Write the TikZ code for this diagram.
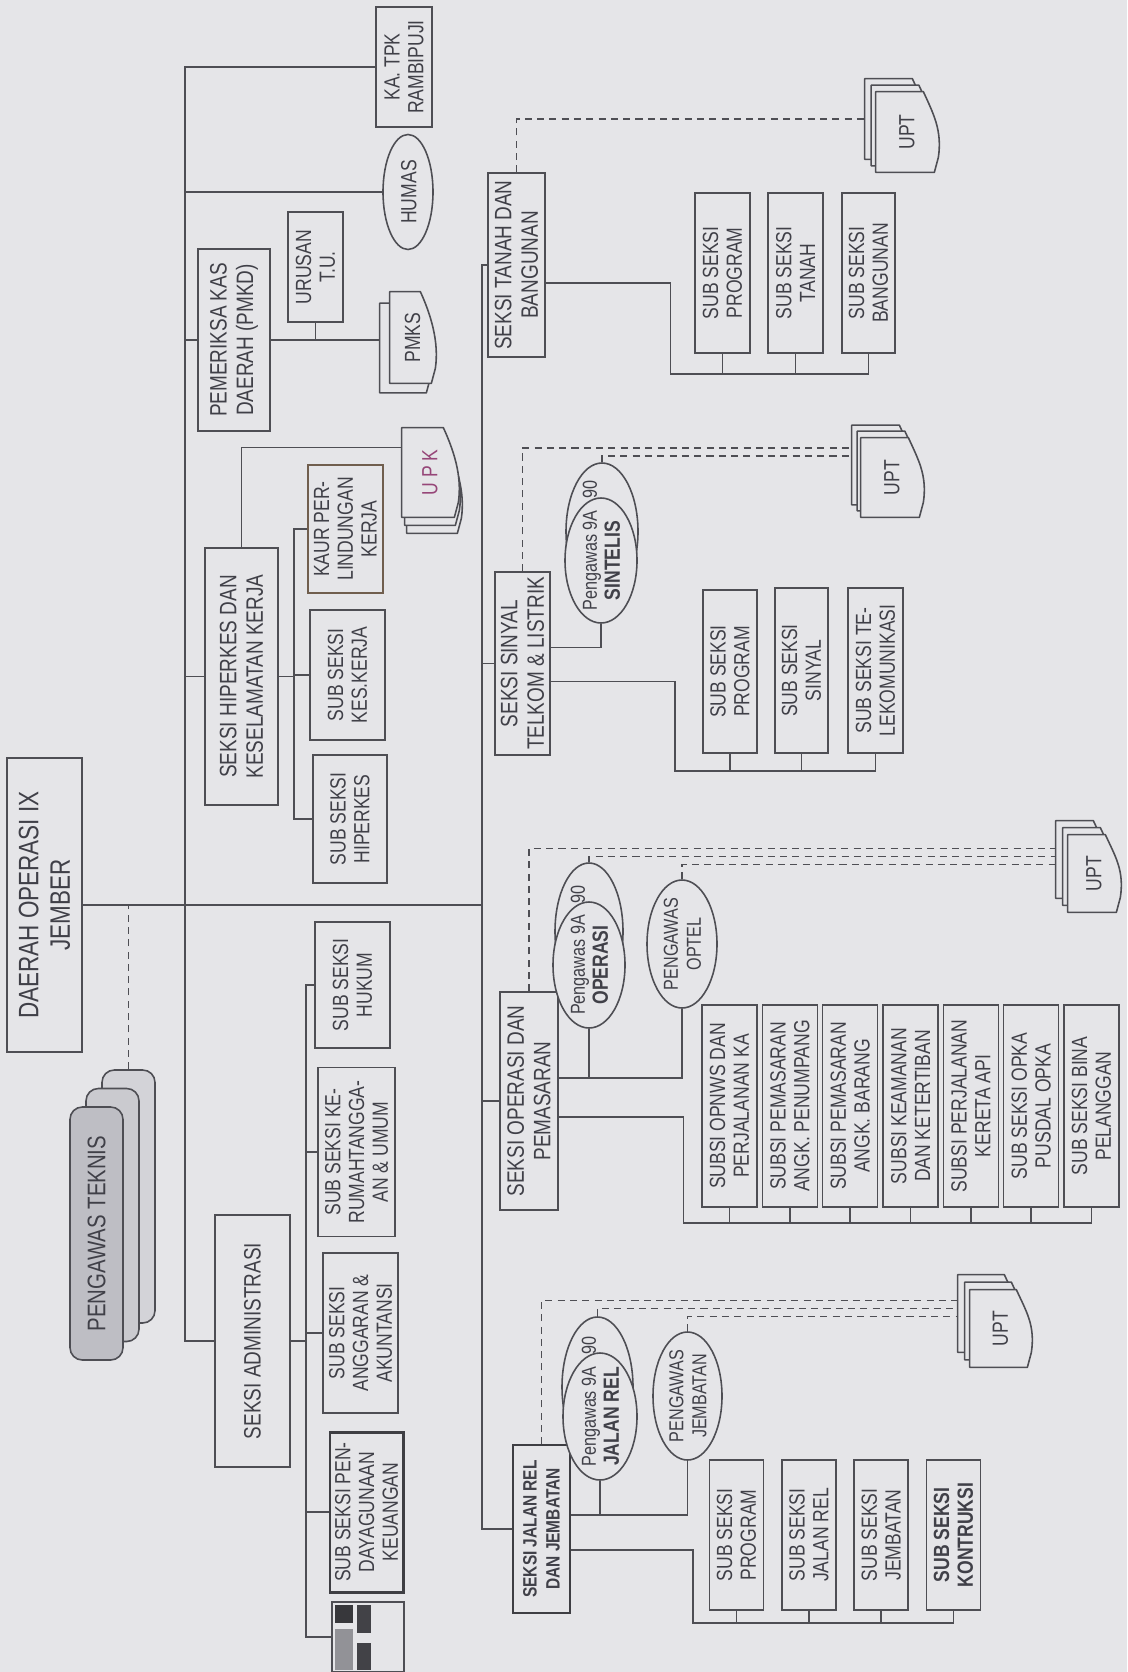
\documentclass[tikz,border=0pt]{standalone}
\usepackage{fontspec}
\setmainfont{Liberation Sans}[FakeStretch=0.8]
\usetikzlibrary{calc,shapes.geometric,backgrounds}

\definecolor{paper}{RGB}{229,229,232}
\definecolor{ink}{RGB}{78,78,84}
\definecolor{inkt}{RGB}{64,64,72}
\definecolor{tekfill}{RGB}{190,190,196}
\definecolor{kaurc}{RGB}{112,94,78}
\definecolor{upkc}{RGB}{150,70,120}

\newcommand{\fsub}{\fontsize{12.5}{13.5}\selectfont}
\newcommand{\fsek}{\fontsize{13.5}{15}\selectfont}
\newcommand{\fdop}{\fontsize{16}{18}\selectfont}
\newcommand{\ftek}{\fontsize{14.5}{16}\selectfont}
\newcommand{\fpeng}{\fontsize{11.5}{13}\selectfont}
\newcommand{\elltext}[1]{\makebox[0pt]{\smash{\raisebox{-0.4em}{\begin{tabular}{@{}c@{}}#1\end{tabular}}}}}
% sheet outline with the wavy edge on the right
\newcommand{\sheet}[1]{%
  \filldraw[draw=ink, fill=paper, line width=0.9pt, line join=round]
    (#1.north east) -- ($(#1.south east)+(-15,0)$)
    .. controls ($(#1.south east)+(-5,22)$) and ($(#1.south west)+(4,-42)$) ..
    ($(#1.south west)+(0,-15)$) -- ($(#1.south west)+(-4,0)$)
    -- (#1.north west) -- cycle;}

\begin{document}
\begin{tikzpicture}[x=0.02cm, y=-0.02cm,
    box/.style={draw=ink, fill=paper, line width=0.9pt, rotate=90, align=center,
                inner sep=1pt, text=inkt, font=\fsub},
    sz/.style 2 args={minimum width=#1*0.02cm, minimum height=#2*0.02cm},
    ov/.style={ellipse, draw=ink, fill=paper, line width=0.9pt, rotate=90,
               inner sep=0pt, text=inkt, font=\fpeng},
    pg/.style={rotate=90, inner sep=0pt, text=inkt, font=\fsub},
    tek/.style={draw=ink, fill=tekfill, rounded corners=7pt, line width=0.9pt,
                rotate=90, text=inkt, font=\ftek},
    ln/.style={draw=ink, line width=0.9pt},
    dl/.style={draw=ink, line width=0.8pt, dash pattern=on 4pt off 3pt},
  ]
  \useasboundingbox (0,0) rectangle (1127,1672);

  % head and staff
  \node[box, sz={294}{75}, font=\fdop] (dop) at (44.5,905) {DAERAH OPERASI IX\\JEMBER};
  \node[tek, sz={253}{53}, fill=tekfill!45!paper] (tek3) at (128.5,1196.5) {};
  \node[tek, sz={253}{53}, fill=tekfill!70!paper] (tek2) at (112.5,1215) {};
  \node[tek, sz={253}{53}] (tek1) at (96.5,1233.5) {PENGAWAS TEKNIS};
  \draw[dl] (tek3.east) -- (tek3.east |- dop.south);

  \coordinate (sp1) at (185,905);
  \coordinate (sp2) at (482,905);
  \draw[ln] (dop.south) -- (sp2);

  % left branch
  \node[box, sz={120}{56}] (katpk) at (404,67) {KA. TPK\\RAMBIPUJI};
  \node[ov, sz={115}{50}, font=\fsub] (humas) at (408,192) {\elltext{HUMAS}};
  \node[box, sz={182}{72}, font=\fsek] (pmkd) at (234,340) {PEMERIKSA KAS\\DAERAH (PMKD)};
  \node[box, sz={110}{55}] (urusan) at (315.5,267) {URUSAN\\T.U.};
  \node[pg, sz={89}{50}] (pmksb) at (405,348) {};
  \node[pg, sz={91}{45}] (pmks) at (412.5,337.5) {PMKS};
  \node[box, sz={257}{73}, font=\fsek] (hiper) at (241.5,676.5) {SEKSI HIPERKES DAN\\KESELAMATAN KERJA};
  \node[box, sz={252}{75}, font=\fsek] (admin) at (252.5,1341) {SEKSI ADMINISTRASI};

  \draw[ln] (katpk.north) -| (sp1) |- (admin.north);
  \draw[ln] (humas.north) -- (humas.north -| sp1);
  \draw[ln] (pmkd.north) -- (pmkd.north -| sp1);
  \draw[ln] (hiper.north) -- (hiper.north -| sp1);
  \draw[ln] (pmkd.south) -- (pmkd.south -| pmksb.north);
  \draw[ln] (urusan.west) -- (urusan.west |- pmkd.south);

  % hiperkes
  \node[box, sz={128}{75}, draw=kaurc, line width=1.7pt] (kaur) at (345.5,529) {KAUR PER-\\LINDUNGAN\\KERJA};
  \node[box, sz={130}{75}] (keskerja) at (347.5,675) {SUB SEKSI\\KES.KERJA};
  \node[box, sz={128}{74}] (subhiper) at (350,819) {SUB SEKSI\\HIPERKES};
  \node[pg, sz={89}{54}] (upkb2) at (434,488.5) {};
  \node[pg, sz={89}{54}] (upkb1) at (432,480.5) {};
  \node[pg, sz={89}{56}, text=upkc] (upk) at (430,472.5) {U P K};
  \coordinate (hb) at ($(hiper.south)+(15,0)$);
  \draw[ln] (hiper.south) -- (hb);
  \draw[ln] (kaur.north) -| (hb) |- (subhiper.north);
  \draw[ln] (keskerja.north) -- (keskerja.north -| hb);
  \draw[ln] (hiper.east) |- ($(upk.north)+(0,-25)$);

  % administrasi
  \node[box, sz={126}{75}] (hukum) at (352.5,985) {SUB SEKSI\\HUKUM};
  \node[box, sz={169}{77}] (rumah) at (356.5,1152) {SUB SEKSI KE-\\RUMAHTANGGA-\\AN \& UMUM};
  \node[box, sz={160}{75}] (anggaran) at (360.5,1333) {SUB SEKSI\\ANGGARAN \&\\AKUNTANSI};
  \node[box, sz={160}{73}, line width=1.7pt, draw=ink!80!black] (dayaguna) at (366.5,1512) {SUB SEKSI PEN-\\DAYAGUNAAN\\KEUANGAN};
  \node[box, sz={70}{72}] (ikon) at (368,1637) {};
  \fill[ink!70!black] ($(ikon)+(-33,-32)$) rectangle ($(ikon)+(-15,-14)$);
  \fill[ink!55!paper] ($(ikon)+(-33,-8)$) rectangle ($(ikon)+(-15,33)$);
  \fill[ink!85!black] ($(ikon)+(-11,-32)$) rectangle ($(ikon)+(3,-4)$);
  \fill[ink!85!black] ($(ikon)+(-11,6)$) rectangle ($(ikon)+(3,33)$);
  \coordinate (ab) at ($(admin.south)+(15,0)$);
  \draw[ln] (admin.south) -- (ab);
  \draw[ln] (hukum.north) -| (ab) |- (ikon.north);
  \foreach \n in {rumah,anggaran,dayaguna}
    \draw[ln] (\n.north) -- (\n.north -| ab);

  % right branch
  \node[box, sz={184}{57}, font=\fsek] (tanah) at (516.5,265) {SEKSI TANAH DAN\\BANGUNAN};
  \node[box, sz={183}{55}, font=\fsek] (sinyal) at (522.5,663.5) {SEKSI SINYAL\\TELKOM \& LISTRIK};
  \node[box, sz={218}{58}, font=\fsek] (oper) at (529,1101) {SEKSI OPERASI DAN\\PEMASARAN};
  \node[box, sz={168}{57}, font=\fontsize{11}{13}\selectfont\bfseries, draw=ink!80!black] (jalan) at (541.5,1529) {SEKSI JALAN REL\\DAN JEMBATAN};
  \draw[ln] (tanah.north) -| (sp2) |- (jalan.north);
  \draw[ln] (sinyal.north) -- (sinyal.north -| sp2);
  \draw[ln] (oper.north) -- (oper.north -| sp2);

  % tanah dan bangunan
  \node[box, sz={160}{55}] (tprog) at (722.5,273) {SUB SEKSI\\PROGRAM};
  \node[box, sz={160}{55}] (ttanah) at (795.5,273) {SUB SEKSI\\TANAH};
  \node[box, sz={160}{53}] (tbang) at (868.5,273) {SUB SEKSI\\BANGUNAN};
  \draw[ln] ($(tanah.south)+(0,18)$) -| ($(tprog.west)+(-52,20)$) -| (tbang.west);
  \draw[ln] (tprog.west) -- ++(0,20);
  \draw[ln] (ttanah.west) -- ++(0,20);
  \node[pg, sz={80}{62}] (upt1b) at (896,119) {};
  \node[pg, sz={80}{62}] (upt1a) at (902.5,125.5) {};
  \node[pg, sz={80}{62}] (upt1) at (907,132) {UPT};
  \draw[dl] (tanah.east) |- (upt1b.north);

  % sinyal telkom
  \node[ov, sz={137}{72}] (sinB) at (602,531.5) {};
  \node[ov, sz={125}{72}] (sin9a) at (601,560.5)
       {\elltext{Pengawas 9A\rlap{\hspace{0.6em}90}\\\textbf{\fsub SINTELIS}}};
  \draw[ln] ($(sinyal.south)+(0,-16)$) -| (sin9a.west);
  \node[box, sz={163}{54}] (sprog) at (730,671.5) {SUB SEKSI\\PROGRAM};
  \node[box, sz={165}{53}] (ssin) at (801.5,670.5) {SUB SEKSI\\SINYAL};
  \node[box, sz={165}{55}] (stele) at (875.5,670.5) {SUB SEKSI TE-\\LEKOMUNIKASI};
  \draw[ln] ($(sinyal.south)+(0,18)$) -| ($(sprog.west)+(-55,17)$) -| (stele.west);
  \draw[ln] (sprog.west) -- ++(0,17);
  \draw[ln] (ssin.west) -- ++(0,18);
  \node[pg, sz={79}{62}] (upt2b) at (883,465) {};
  \node[pg, sz={79}{62}] (upt2a) at (888.5,471) {};
  \node[pg, sz={79}{62}] (upt2) at (892,477.5) {UPT};
  \draw[dl] (sinyal.east) |- ($(upt2b.north)+(0,-17)$);
  \draw[dl] (sinB.east) |- ($(upt2b.north)+(0,-9)$);

  % operasi dan pemasaran
  \node[ov, sz={137}{68}] (opB) at (589,931.5) {};
  \node[ov, sz={126}{72}] (op9a) at (589,965)
       {\elltext{Pengawas 9A\rlap{\hspace{0.6em}90}\\\textbf{\fsub OPERASI}}};
  \node[ov, sz={128}{70}] (optel) at (682,944) {\elltext{PENGAWAS\\OPTEL}};
  \draw[ln] ($(oper.south)+(0,-23)$) -| (optel.west);
  \draw[ln] (op9a.west) |- ($(oper.south)+(0,-23)$);
  \foreach \n/\t [count=\i from 0] in {o1/{SUBSI OPNWS DAN\\PERJALANAN KA},
      o2/{SUBSI PEMASARAN\\ANGK. PENUMPANG}, o3/{SUBSI PEMASARAN\\ANGK. BARANG},
      o4/{SUBSI KEAMANAN\\DAN KETERTIBAN}, o5/{SUBSI PERJALANAN\\KERETA API},
      o6/{SUB SEKSI OPKA\\PUSDAL OPKA}, o7/{SUB SEKSI BINA\\PELANGGAN}}
    \node[box, sz={202}{55}] (\n) at (729.5+60.33*\i,1106) {\t};
  \draw[ln] ($(oper.south)+(0,16)$) -| ($(o1.west)+(-46,15)$) -| (o7.west);
  \foreach \n in {o1,o2,o3,o4,o5,o6}
    \draw[ln] (\n.west) -- ++(0,15);
  \node[pg, sz={77}{52}] (upt3b) at (1082,859.5) {};
  \node[pg, sz={77}{52}] (upt3a) at (1089,866.5) {};
  \node[pg, sz={77}{52}] (upt3) at (1094,873.5) {UPT};
  \draw[dl] (oper.east) |- ($(upt3b.north)+(0,-11)$);
  \draw[dl] (opB.east) |- ($(upt3b.north)+(0,-3)$);
  \draw[dl] (optel.east) |- ($(upt3b.north)+(0,5)$);

  % jalan rel dan jembatan
  \node[ov, sz={140}{71}] (jrB) at (597.5,1387) {};
  \node[ov, sz={127}{74}] (jr9a) at (600,1416.5)
       {\elltext{Pengawas 9A\rlap{\hspace{0.6em}90}\\\textbf{\fsub JALAN REL}}};
  \node[ov, sz={128}{69}] (jemb) at (687.5,1396) {\elltext{PENGAWAS\\JEMBATAN}};
  \draw[ln] ($(jalan.south)+(0,-14)$) -| (jemb.west);
  \draw[ln] (jr9a.west) |- ($(jalan.south)+(0,-14)$);
  \foreach \n/\t [count=\i from 0] in {j1/{SUB SEKSI\\PROGRAM},
      j2/{SUB SEKSI\\JALAN REL}, j3/{SUB SEKSI\\JEMBATAN}}
    \node[box, sz={150}{54}] (\n) at (736.5+72.33*\i,1535) {\t};
  \node[box, sz={150}{54}, font=\fsub\bfseries] (j4) at (953.5,1535) {SUB SEKSI\\KONTRUKSI};
  \draw[ln] ($(jalan.south)+(0,21)$) -| ($(j1.west)+(-43.5,12)$) -| (j4.west);
  \foreach \n in {j1,j2,j3}
    \draw[ln] (\n.west) -- ++(0,12);
  \node[pg, sz={77}{61}] (upt4b) at (988.5,1313.5) {};
  \node[pg, sz={77}{61}] (upt4a) at (995.5,1321) {};
  \node[pg, sz={77}{61}] (upt4) at (1000.5,1328.5) {UPT};
  \draw[dl] (jalan.east) |- ($(upt4b.north)+(0,-13)$);
  \draw[dl] (jrB.east) |- ($(upt4b.north)+(0,-5)$);
  \draw[dl] (jemb.east) |- ($(upt4b.north)+(0,3)$);

  % paper and stacked sheets
  \begin{scope}[on background layer]
    \fill[paper] (0,0) rectangle (1127,1672);
    \foreach \p in {pmksb,pmks,upkb2,upkb1,upk,upt1b,upt1a,upt1,upt2b,upt2a,upt2,
                    upt3b,upt3a,upt3,upt4b,upt4a,upt4}
      \sheet{\p};
  \end{scope}
\end{tikzpicture}
\end{document}
